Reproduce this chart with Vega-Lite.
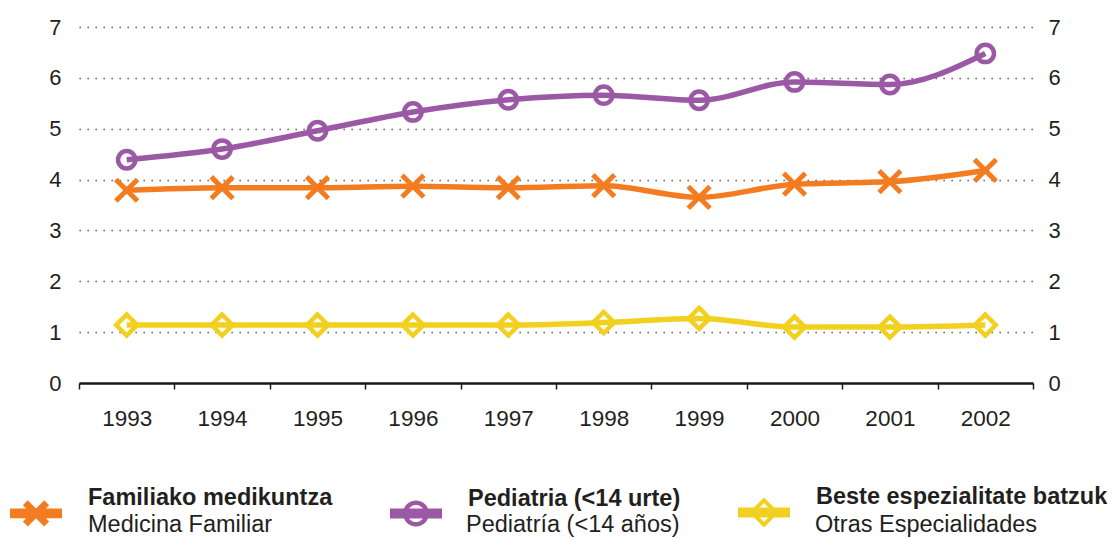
{
  "$schema": "https://vega.github.io/schema/vega-lite/v6.json",
  "width": 954,
  "height": 356,
  "autosize": {"type": "none"},
  "padding": {"left": 79, "top": 27, "right": 81, "bottom": 155},
  "background": "white",
  "config": {"view": {"stroke": null}, "font": "Liberation Sans"},
  "data": {
    "values": [
      {"year": "1993", "eu": "Familiako medikuntza", "es": "Medicina Familiar", "value": 3.79},
      {"year": "1994", "eu": "Familiako medikuntza", "es": "Medicina Familiar", "value": 3.84},
      {"year": "1995", "eu": "Familiako medikuntza", "es": "Medicina Familiar", "value": 3.84},
      {"year": "1996", "eu": "Familiako medikuntza", "es": "Medicina Familiar", "value": 3.87},
      {"year": "1997", "eu": "Familiako medikuntza", "es": "Medicina Familiar", "value": 3.84},
      {"year": "1998", "eu": "Familiako medikuntza", "es": "Medicina Familiar", "value": 3.88},
      {"year": "1999", "eu": "Familiako medikuntza", "es": "Medicina Familiar", "value": 3.65},
      {"year": "2000", "eu": "Familiako medikuntza", "es": "Medicina Familiar", "value": 3.91},
      {"year": "2001", "eu": "Familiako medikuntza", "es": "Medicina Familiar", "value": 3.96},
      {"year": "2002", "eu": "Familiako medikuntza", "es": "Medicina Familiar", "value": 4.18},
      {"year": "1993", "eu": "Pediatria (<14 urte)", "es": "Pediatría (<14 años)", "value": 4.39},
      {"year": "1994", "eu": "Pediatria (<14 urte)", "es": "Pediatría (<14 años)", "value": 4.60},
      {"year": "1995", "eu": "Pediatria (<14 urte)", "es": "Pediatría (<14 años)", "value": 4.96},
      {"year": "1996", "eu": "Pediatria (<14 urte)", "es": "Pediatría (<14 años)", "value": 5.33},
      {"year": "1997", "eu": "Pediatria (<14 urte)", "es": "Pediatría (<14 años)", "value": 5.57},
      {"year": "1998", "eu": "Pediatria (<14 urte)", "es": "Pediatría (<14 años)", "value": 5.66},
      {"year": "1999", "eu": "Pediatria (<14 urte)", "es": "Pediatría (<14 años)", "value": 5.56},
      {"year": "2000", "eu": "Pediatria (<14 urte)", "es": "Pediatría (<14 años)", "value": 5.92},
      {"year": "2001", "eu": "Pediatria (<14 urte)", "es": "Pediatría (<14 años)", "value": 5.87},
      {"year": "2002", "eu": "Pediatria (<14 urte)", "es": "Pediatría (<14 años)", "value": 6.48},
      {"year": "1993", "eu": "Beste espezialitate batzuk", "es": "Otras Especialidades", "value": 1.14},
      {"year": "1994", "eu": "Beste espezialitate batzuk", "es": "Otras Especialidades", "value": 1.14},
      {"year": "1995", "eu": "Beste espezialitate batzuk", "es": "Otras Especialidades", "value": 1.14},
      {"year": "1996", "eu": "Beste espezialitate batzuk", "es": "Otras Especialidades", "value": 1.14},
      {"year": "1997", "eu": "Beste espezialitate batzuk", "es": "Otras Especialidades", "value": 1.14},
      {"year": "1998", "eu": "Beste espezialitate batzuk", "es": "Otras Especialidades", "value": 1.19},
      {"year": "1999", "eu": "Beste espezialitate batzuk", "es": "Otras Especialidades", "value": 1.27},
      {"year": "2000", "eu": "Beste espezialitate batzuk", "es": "Otras Especialidades", "value": 1.10},
      {"year": "2001", "eu": "Beste espezialitate batzuk", "es": "Otras Especialidades", "value": 1.10},
      {"year": "2002", "eu": "Beste espezialitate batzuk", "es": "Otras Especialidades", "value": 1.14}
    ]
  },
  "encoding": {
    "x": {
      "field": "year",
      "type": "ordinal",
      "scale": {"type": "band", "paddingInner": 0, "paddingOuter": 0},
      "axis": {
        "title": null,
        "labelAngle": 0,
        "grid": false,
        "domainColor": "#1a1a1a",
        "domainWidth": 2.5,
        "tickColor": "#1a1a1a",
        "tickWidth": 1.5,
        "tickSize": 6,
        "tickBand": "extent",
        "labelFont": "Liberation Sans",
        "labelFontSize": 22.5,
        "labelColor": "#231f20",
        "labelPadding": 18
      }
    }
  },
  "resolve": {"axis": {"y": "independent"}},
  "layer": [
    {
      "transform": [{"filter": "datum.eu == 'Familiako medikuntza'"}],
      "mark": {"type": "point", "shape": "M-1,-1L1,1M-1,1L1,-1", "size": 470, "strokeWidth": 5, "fill": "white", "opacity": 1},
      "encoding": {
        "y": {"field": "value", "type": "quantitative", "scale": {"domain": [0, 7]}, "axis": null},
        "stroke": {"field": "eu", "type": "nominal", "scale": {"range": ["#f2d01f", "#f47c20", "#9b59a5"]}, "legend": null}
      }
    },
    {
      "transform": [{"filter": "datum.eu == 'Pediatria (<14 urte)'"}],
      "mark": {"type": "point", "shape": "circle", "size": 300, "strokeWidth": 4.5, "fill": "white", "opacity": 1},
      "encoding": {
        "y": {"field": "value", "type": "quantitative", "scale": {"domain": [0, 7]}, "axis": null},
        "stroke": {"field": "eu", "type": "nominal", "legend": null}
      }
    },
    {
      "transform": [{"filter": "datum.eu == 'Beste espezialitate batzuk'"}],
      "mark": {"type": "point", "shape": "M0,-1L1,0L0,1L-1,0Z", "size": 440, "strokeWidth": 4.5, "fill": "white", "opacity": 1},
      "encoding": {
        "y": {"field": "value", "type": "quantitative", "scale": {"domain": [0, 7]}, "axis": null},
        "stroke": {"field": "eu", "type": "nominal", "legend": null}
      }
    },
    {
      "mark": {"type": "line", "strokeWidth": 5.5, "interpolate": "monotone"},
      "encoding": {
        "y": {
          "field": "value",
          "type": "quantitative",
          "scale": {"domain": [0, 7]},
          "axis": {
            "title": null,
            "values": [0, 1, 2, 3, 4, 5, 6, 7],
            "domain": false,
            "ticks": false,
            "grid": true,
            "gridDash": [1.3, 6.7],
            "gridColor": "#444444",
            "gridWidth": 1.3,
            "labelFont": "Liberation Sans",
            "labelFontSize": 22,
            "labelColor": "#231f20",
            "labelPadding": 18
          }
        },
        "stroke": {"field": "eu", "type": "nominal", "legend": null}
      }
    },
    {
      "mark": {"type": "line", "strokeWidth": 0, "opacity": 0},
      "encoding": {
        "y": {
          "field": "value",
          "type": "quantitative",
          "scale": {"domain": [0, 7]},
          "axis": {
            "orient": "right",
            "title": null,
            "values": [0, 1, 2, 3, 4, 5, 6, 7],
            "domain": false,
            "ticks": false,
            "grid": false,
            "labelFont": "Liberation Sans",
            "labelFontSize": 22,
            "labelColor": "#231f20",
            "labelPadding": 15
          }
        },
        "detail": {"field": "eu", "type": "nominal"}
      }
    },
    {
      "transform": [{"filter": "false"}],
      "mark": {"type": "point", "filled": true, "opacity": 1},
      "encoding": {
        "fill": {
          "field": "eu",
          "type": "nominal",
          "scale": {"domain": ["Familiako medikuntza", "Pediatria (<14 urte)", "Beste espezialitate batzuk"], "range": ["#f47c20", "#9b59a5", "#f2d01f"]},
          "legend": {
            "orient": "none", "legendX": -69, "legendY": 459, "direction": "horizontal", "title": null, "padding": 0,
            "symbolSize": 2704, "symbolStrokeWidth": 0, "symbolOpacity": 1,
            "labelFont": "Liberation Sans", "labelFontSize": 23.5, "labelFontWeight": "bold", "labelColor": "#231f20",
            "labelOffset": 26, "columnPadding": 57, "labelLimit": 600,
            "encode": {"labels": {"update": {"dy": {"value": -15}}}}
          }
        },
        "shape": {
          "field": "eu",
          "type": "nominal",
          "scale": {
            "domain": ["Familiako medikuntza", "Pediatria (<14 urte)", "Beste espezialitate batzuk"],
            "range": [
              "M-1,-0.19L1,-0.19L1,0.19L-1,0.19Z M-0.315,-0.505L0.505,0.315L0.315,0.505L-0.505,-0.315Z M-0.505,0.315L0.315,-0.505L0.505,-0.315L-0.315,0.505Z",
              "M-1,-0.19L1,-0.19L1,0.19L-1,0.19Z M0.5,0A0.5,0.5,0,1,1,-0.5,0A0.5,0.5,0,1,1,0.5,0Z M0.33,0A0.33,0.33,0,1,0,-0.33,0A0.33,0.33,0,1,0,0.33,0Z",
              "M-1,-0.19L1,-0.19L1,0.19L-1,0.19Z M0,-0.58L0.58,0L0,0.58L-0.58,0Z M0,-0.36L-0.36,0L0,0.36L0.36,0Z"
            ]
          },
          "legend": {
            "orient": "none", "legendX": -69, "legendY": 459, "direction": "horizontal", "title": null, "padding": 0,
            "symbolSize": 2704, "symbolStrokeWidth": 0, "symbolOpacity": 1,
            "labelFont": "Liberation Sans", "labelFontSize": 23.5, "labelFontWeight": "bold", "labelColor": "#231f20",
            "labelOffset": 26, "columnPadding": 57, "labelLimit": 600,
            "encode": {"labels": {"update": {"dy": {"value": -15}}}}
          }
        },
        "strokeDash": {
          "field": "es",
          "type": "nominal",
          "scale": {"domain": ["Medicina Familiar", "Pediatría (<14 años)", "Otras Especialidades"], "range": [[1, 0], [1, 0], [1, 0]]},
          "legend": {
            "orient": "none", "legendX": -69, "legendY": 472, "direction": "horizontal", "title": null, "padding": 0,
            "symbolSize": 2704, "symbolStrokeWidth": 0, "symbolOpacity": 0, "symbolType": "square",
            "labelFont": "Liberation Sans", "labelFontSize": 23.5, "labelFontWeight": "normal", "labelColor": "#231f20",
            "labelOffset": 26, "columnPadding": 57, "labelLimit": 600,
            "labelExpr": "datum.label == 'Medicina Familiar' ? datum.label + '         \u200b' : datum.label"
          }
        }
      }
    }
  ]
}
